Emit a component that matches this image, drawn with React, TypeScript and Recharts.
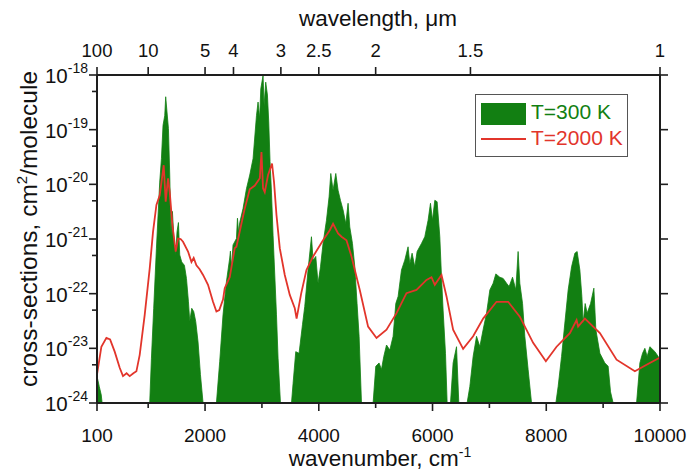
import React from 'react';
import { ComposedChart, Area, Line, XAxis, YAxis } from 'recharts';

// T = 300 K absorption cross-sections (cm^2/molecule) vs wavenumber (cm^-1)
const t300Wavenumber = [
  100, 140, 175, 190, 1000,
  1027, 1057, 1097, 1145, 1203, 1233, 1261, 1291, 1308, 1331, 1356, 1379, 1402, 1426, 1449, 1484, 1507, 1532, 1555, 1590, 1637, 1673, 1708, 1731, 1766, 1801, 1836, 1877, 1919, 1965,
  2200, 2258, 2316, 2376, 2434, 2446, 2464, 2492, 2552, 2570, 2590, 2610, 2668, 2728, 2786, 2844, 2904, 2932, 2960, 2980, 3020, 3038, 3067, 3097, 3120, 3143, 3168, 3196, 3226, 3256, 3284, 3326,
  3520, 3548, 3595, 3653, 3713, 3753, 3811, 3871, 3900, 3947, 3987, 4030, 4075, 4135, 4181, 4211, 4251, 4299, 4339, 4381, 4427, 4475, 4515, 4545, 4592, 4633, 4673, 4709, 4751,
  4955, 5002, 5060, 5102, 5143, 5191, 5249, 5307, 5354, 5395, 5454, 5512, 5570, 5600, 5641, 5688, 5729, 5806, 5864, 5922, 5964, 5999, 6040, 6081, 6128, 6158, 6186, 6228, 6257,
  6316, 6362, 6422, 6462,
  6608, 6656, 6714, 6774, 6832, 6890, 6950, 7008, 7066, 7113, 7183, 7242, 7302, 7347, 7407, 7465, 7505, 7535, 7583, 7623, 7681, 7741,
  8169, 8209, 8269, 8327, 8385, 8445, 8503, 8543, 8591, 8626, 8649, 8684, 8719, 8779, 8837, 8872, 8943, 9030, 9088, 9130, 9176,
  9588, 9646, 9693, 9734, 9774, 9822, 9910, 9968, 10000,
];
const t300Sigma = [
  3.1e-24, 2e-24, 1.4e-24, 1e-24, 1e-24,
  1e-24, 6.6e-24, 5.4e-23, 6.8e-22, 1.1e-20, 2.95e-20, 1.2e-19, 1.8e-19, 4e-19, 2.1e-19, 1.05e-19, 1.48e-20, 1.17e-21, 3.2e-21, 1.17e-21, 5.1e-22, 1.35e-21, 2.0e-21, 5.1e-22, 3.8e-22, 3.3e-22, 1.9e-22, 7.1e-23, 3.1e-23, 5.4e-23, 4.7e-23, 3.1e-23, 1.3e-23, 3.3e-24, 1e-24,
  1e-24, 5.8e-24, 4.1e-23, 1.66e-22, 4.5e-22, 6.0e-22, 2.9e-22, 7.8e-22, 1.02e-21, 2.4e-21, 1.3e-21, 2.0e-21, 3.6e-21, 8.3e-21, 1.48e-20, 2.95e-20, 1.8e-19, 3.2e-19, 1.6e-19, 5.6e-19, 9.8e-19, 2.75e-19, 7.4e-19, 4.3e-19, 1.38e-19, 2.6e-20, 7.2e-21, 1.17e-21, 2.2e-22, 4.1e-23, 6.6e-24, 1e-24,
  1e-24, 2.3e-24, 8.7e-24, 8.1e-24, 2.7e-23, 5.8e-23, 2.7e-22, 1.1e-21, 4.1e-22, 4.8e-22, 1.55e-22, 3.1e-22, 8.3e-22, 2.2e-21, 5.9e-21, 1.58e-20, 7.8e-21, 1.58e-20, 7.8e-21, 5.1e-21, 3.4e-21, 1.9e-21, 4.5e-21, 1.66e-21, 8.3e-22, 3.1e-22, 6.6e-23, 1.66e-23, 1e-24,
  1e-24, 4.7e-24, 5.4e-24, 4.1e-24, 7.1e-24, 1.15e-23, 9.3e-24, 1.66e-23, 6.6e-23, 8.9e-23, 2.7e-22, 4.1e-22, 7.2e-22, 3.5e-22, 5.5e-22, 3.1e-22, 5.9e-22, 8.3e-22, 1.1e-21, 2.2e-21, 4.5e-21, 2.2e-21, 5.1e-21, 4.8e-21, 1.1e-21, 2.0e-22, 5e-23, 8.1e-24, 1e-24,
  1e-24, 5.4e-24, 1.07e-23, 1e-24,
  1e-24, 2e-24, 7.1e-24, 1.66e-23, 1.07e-23, 2.2e-23, 4.4e-23, 1.17e-22, 1.55e-22, 2.3e-22, 2.0e-22, 1.9e-22, 1.55e-22, 1.35e-22, 2.0e-22, 1.17e-22, 5.9e-22, 1.55e-22, 6.6e-23, 1.66e-23, 4.1e-24, 1e-24,
  1e-24, 2e-24, 7.1e-24, 2.9e-23, 1.17e-22, 3.1e-22, 5.5e-22, 5.9e-22, 2.7e-22, 8.9e-23, 2.9e-23, 6.6e-23, 4.4e-23, 6.6e-23, 1.26e-22, 2.2e-23, 8.1e-24, 5.4e-24, 4.7e-24, 1.6e-24, 1e-24,
  1e-24, 5.4e-24, 8.1e-24, 1e-23, 7.1e-24, 1.07e-23, 8.7e-24, 7.1e-24, 6.3e-24,
];

// T = 2000 K cross-sections
const t2000Wavenumber = [
  100, 177, 265, 330, 411, 499, 557, 620, 675, 740, 793, 851, 939, 1027, 1085, 1145, 1203, 1250, 1273, 1308, 1349, 1379, 1426, 1484, 1525, 1570, 1613, 1701, 1761, 1800, 1848, 1905, 1965, 2052, 2140, 2200, 2250,
  2316, 2346, 2434, 2522, 2552, 2668, 2698, 2786, 2875, 2963, 2992, 3020, 3050, 3108, 3178, 3213, 3256, 3314, 3402, 3490, 3578, 3610, 3690,
  3783, 3900, 4075, 4193, 4251, 4339, 4400, 4487, 4575, 4721, 4867, 5015, 5191, 5367, 5542, 5718, 5894, 5982, 6040, 6158, 6246, 6362, 6538, 6714,
  6890, 7125, 7330, 7535, 7769, 7993, 8181, 8415, 8533, 8560, 8679, 8943, 9236, 9558, 9764, 10000,
];
const t2000Sigma = [
  3.3e-24, 1.07e-23, 1.55e-23, 1.45e-23, 8.7e-24, 4.4e-24, 3.1e-24, 3.5e-24, 3.1e-24, 3.5e-24, 3.8e-24, 7.6e-24, 4.1e-23, 2.9e-22, 1.35e-21, 4.2e-21, 6.3e-21, 1.48e-20, 2.24e-20, 4.8e-21, 1.29e-20, 7.2e-21, 1.78e-21, 5.9e-22, 1.02e-21, 1.0e-21, 8.9e-22, 5.9e-22, 3.8e-22, 4.5e-22, 3.3e-22, 2.8e-22, 2.2e-22, 1.45e-22, 7.1e-23, 4.7e-23, 5e-23,
  7.8e-23, 1.26e-22, 2.0e-22, 6.8e-22, 7.2e-22, 2.6e-21, 3.6e-21, 8.1e-21, 9.5e-21, 1.29e-20, 3.9e-20, 8.5e-21, 7.2e-21, 1.48e-20, 2.4e-20, 1.1e-20, 2.75e-21, 6.8e-22, 2.2e-22, 9.5e-23, 5.4e-23, 3.5e-23, 1e-22,
  2.7e-22, 4.8e-22, 9.5e-22, 1.45e-21, 1.9e-21, 1.26e-21, 1.1e-21, 9.5e-22, 4.8e-22, 1.17e-22, 2.5e-23, 1.55e-23, 2.2e-23, 4.4e-23, 1.02e-22, 1.17e-22, 1.78e-22, 2.0e-22, 1.45e-22, 2.2e-22, 8.9e-23, 2.2e-23, 9.8e-24, 1.66e-23,
  3.5e-23, 7.1e-23, 7.1e-23, 3.8e-23, 1.26e-23, 5.8e-24, 1.07e-23, 1.9e-23, 3.3e-23, 2.5e-23, 3.5e-23, 1.9e-23, 6.2e-24, 3.8e-24, 5e-24, 6.8e-24,
];

const bottomTicks = [100, 1000, 2000, 3000, 4000, 5000, 6000, 7000, 8000, 9000, 10000];
const bottomMajorTicks = [100, 2000, 4000, 6000, 8000, 10000];
const topTickWavelengths = [100, 10, 5, 4, 3, 2.5, 2, 1.5, 1];
const yMajorTicks = [1e-24, 1e-23, 1e-22, 1e-21, 1e-20, 1e-19, 1e-18];
const yMajorExponents = [-24, -23, -22, -21, -20, -19, -18];
const yMinorTicks = [5e-24, 5e-23, 5e-22, 5e-21, 5e-20, 5e-19];

const t300Data = t300Wavenumber.map((wn, i) => ({ wn, sigma: t300Sigma[i] }));
const t2000Data = t2000Wavenumber.map((wn, i) => ({ wn, sigma: t2000Sigma[i] }));
const topTickWavenumbers = topTickWavelengths.map((l) => 10000 / l);
const yAllTicks = [...yMajorTicks, ...yMinorTicks].sort((a, b) => a - b);

const GREEN = '#127f12';
const RED = '#e2352b';
const AXIS = '#1e1e1e';
const FONT = '"Liberation Sans", Arial, Helvetica, sans-serif';

const BottomTick = (props: any) => {
  const { x, y, payload } = props;
  const v = payload.value;
  const major = bottomMajorTicks.includes(v);
  return (
    <g>
      <line x1={x} x2={x} y1={y} y2={y + (major ? 8 : 5)} stroke={AXIS} strokeWidth={1.6} />
      {major && (
        <text x={x} y={y + 39} textAnchor="middle" fontSize={19} fill="#111" fontFamily={FONT}>
          {v}
        </text>
      )}
    </g>
  );
};

const TopTick = (props: any) => {
  const { x, y, payload, index } = props;
  const idx = topTickWavenumbers.findIndex((w) => Math.abs(w - payload.value) < 1e-6);
  const label = idx >= 0 ? topTickWavelengths[idx] : topTickWavelengths[index];
  return (
    <g>
      <line x1={x} x2={x} y1={y} y2={y - 8} stroke={AXIS} strokeWidth={1.6} />
      <text x={x} y={y - 18} textAnchor="middle" fontSize={18.5} fill="#111" fontFamily={FONT}>
        {label}
      </text>
    </g>
  );
};

const LeftTick = (props: any) => {
  const { x, y, payload } = props;
  const v = payload.value;
  const mi = yMajorTicks.findIndex((m) => Math.abs(m - v) / m < 1e-6);
  const major = mi >= 0;
  return (
    <g>
      <line x1={x - (major ? 8 : 5)} x2={x} y1={y} y2={y} stroke={AXIS} strokeWidth={1.6} />
      {major && (
        <text x={x - 9} y={y + 8} textAnchor="end" fontSize={20.5} fill="#111" fontFamily={FONT}>
          10
          <tspan dy={-10} fontSize={14}>{String(yMajorExponents[mi])}</tspan>
        </text>
      )}
    </g>
  );
};

const RightTick = (props: any) => {
  const { x, y } = props;
  return <line x1={x} x2={x + 8} y1={y} y2={y} stroke={AXIS} strokeWidth={1.6} />;
};

const LegendBox = () => (
  <div
    style={{
      position: 'absolute',
      left: 475,
      top: 94,
      width: 151,
      height: 61,
      border: '1px solid #555',
      background: '#fff',
      fontFamily: FONT,
      fontSize: 21,
      boxSizing: 'content-box',
    }}
  >
    <div style={{ position: 'absolute', left: 5, top: 8, width: 45, height: 22, background: GREEN }} />
    <div style={{ position: 'absolute', left: 55, top: 4, color: GREEN, lineHeight: '26px' }}>T=300 K</div>
    <div style={{ position: 'absolute', left: 5, top: 43, width: 45, height: 1.5, background: RED }} />
    <div style={{ position: 'absolute', left: 55, top: 30, color: RED, lineHeight: '26px' }}>T=2000 K</div>
  </div>
);

export default function App() {
  return (
    <div style={{ position: 'absolute', left: 0, top: 0, width: 689, height: 472, background: '#fff' }}>
      <ComposedChart width={689} height={472} margin={{ top: 30, right: 9, bottom: 19, left: 17 }}>
        <XAxis
          xAxisId="bottom"
          dataKey="wn"
          type="number"
          scale="linear"
          domain={[100, 10000]}
          allowDataOverflow
          ticks={bottomTicks}
          interval={0}
          tick={<BottomTick />}
          tickLine={false}
          tickSize={0}
          tickMargin={0}
          height={50}
          axisLine={{ stroke: AXIS, strokeWidth: 2 }}
          label={{
            content: () => (
              <text x={380} y={466} textAnchor="middle" fontSize={22.5} fill="#111" fontFamily={FONT}>
                wavenumber, cm<tspan dy={-9} fontSize={14}>-1</tspan>
              </text>
            ),
          }}
        />
        <XAxis
          xAxisId="top"
          dataKey="wn"
          orientation="top"
          type="number"
          scale="linear"
          domain={[100, 10000]}
          allowDataOverflow
          ticks={topTickWavenumbers}
          interval={0}
          tick={<TopTick />}
          tickLine={false}
          tickSize={0}
          tickMargin={0}
          height={45}
          axisLine={{ stroke: AXIS, strokeWidth: 2 }}
          label={{
            content: () => (
              <text x={378} y={26} textAnchor="middle" fontSize={22.5} fill="#111" fontFamily={FONT}>
                wavelength, μm
              </text>
            ),
          }}
        />
        <YAxis
          yAxisId="left"
          scale="log"
          type="number"
          domain={[1e-24, 1e-18]}
          allowDataOverflow
          ticks={yAllTicks}
          interval={0}
          tick={<LeftTick />}
          tickLine={false}
          tickSize={0}
          tickMargin={0}
          width={80}
          axisLine={{ stroke: AXIS, strokeWidth: 2 }}
          label={{
            content: () => (
              <text
                transform="translate(37,229) rotate(-90)"
                x={0}
                y={0}
                textAnchor="middle"
                fontSize={24.5}
                fill="#111"
                fontFamily={FONT}
              >
                cross-sections, cm<tspan dy={-10} fontSize={15}>2</tspan>
                <tspan dy={10}>/molecule</tspan>
              </text>
            ),
          }}
        />
        <YAxis
          yAxisId="right"
          orientation="right"
          scale="log"
          type="number"
          domain={[1e-24, 1e-18]}
          allowDataOverflow
          ticks={yMajorTicks}
          interval={0}
          tick={<RightTick />}
          tickLine={false}
          tickSize={0}
          tickMargin={0}
          width={20}
          axisLine={{ stroke: AXIS, strokeWidth: 2 }}
        />
        <Area
          xAxisId="bottom"
          yAxisId="left"
          data={t300Data}
          dataKey="sigma"
          type="linear"
          baseValue={1e-24}
          fill={GREEN}
          fillOpacity={1}
          stroke={GREEN}
          strokeWidth={0.8}
          isAnimationActive={false}
          name="T=300 K"
        />
        <Line
          xAxisId="top"
          yAxisId="right"
          data={t2000Data}
          dataKey="sigma"
          type="linear"
          stroke={RED}
          strokeWidth={1.8}
          dot={false}
          isAnimationActive={false}
          name="T=2000 K"
        />
      </ComposedChart>
      <LegendBox />
    </div>
  );
}
